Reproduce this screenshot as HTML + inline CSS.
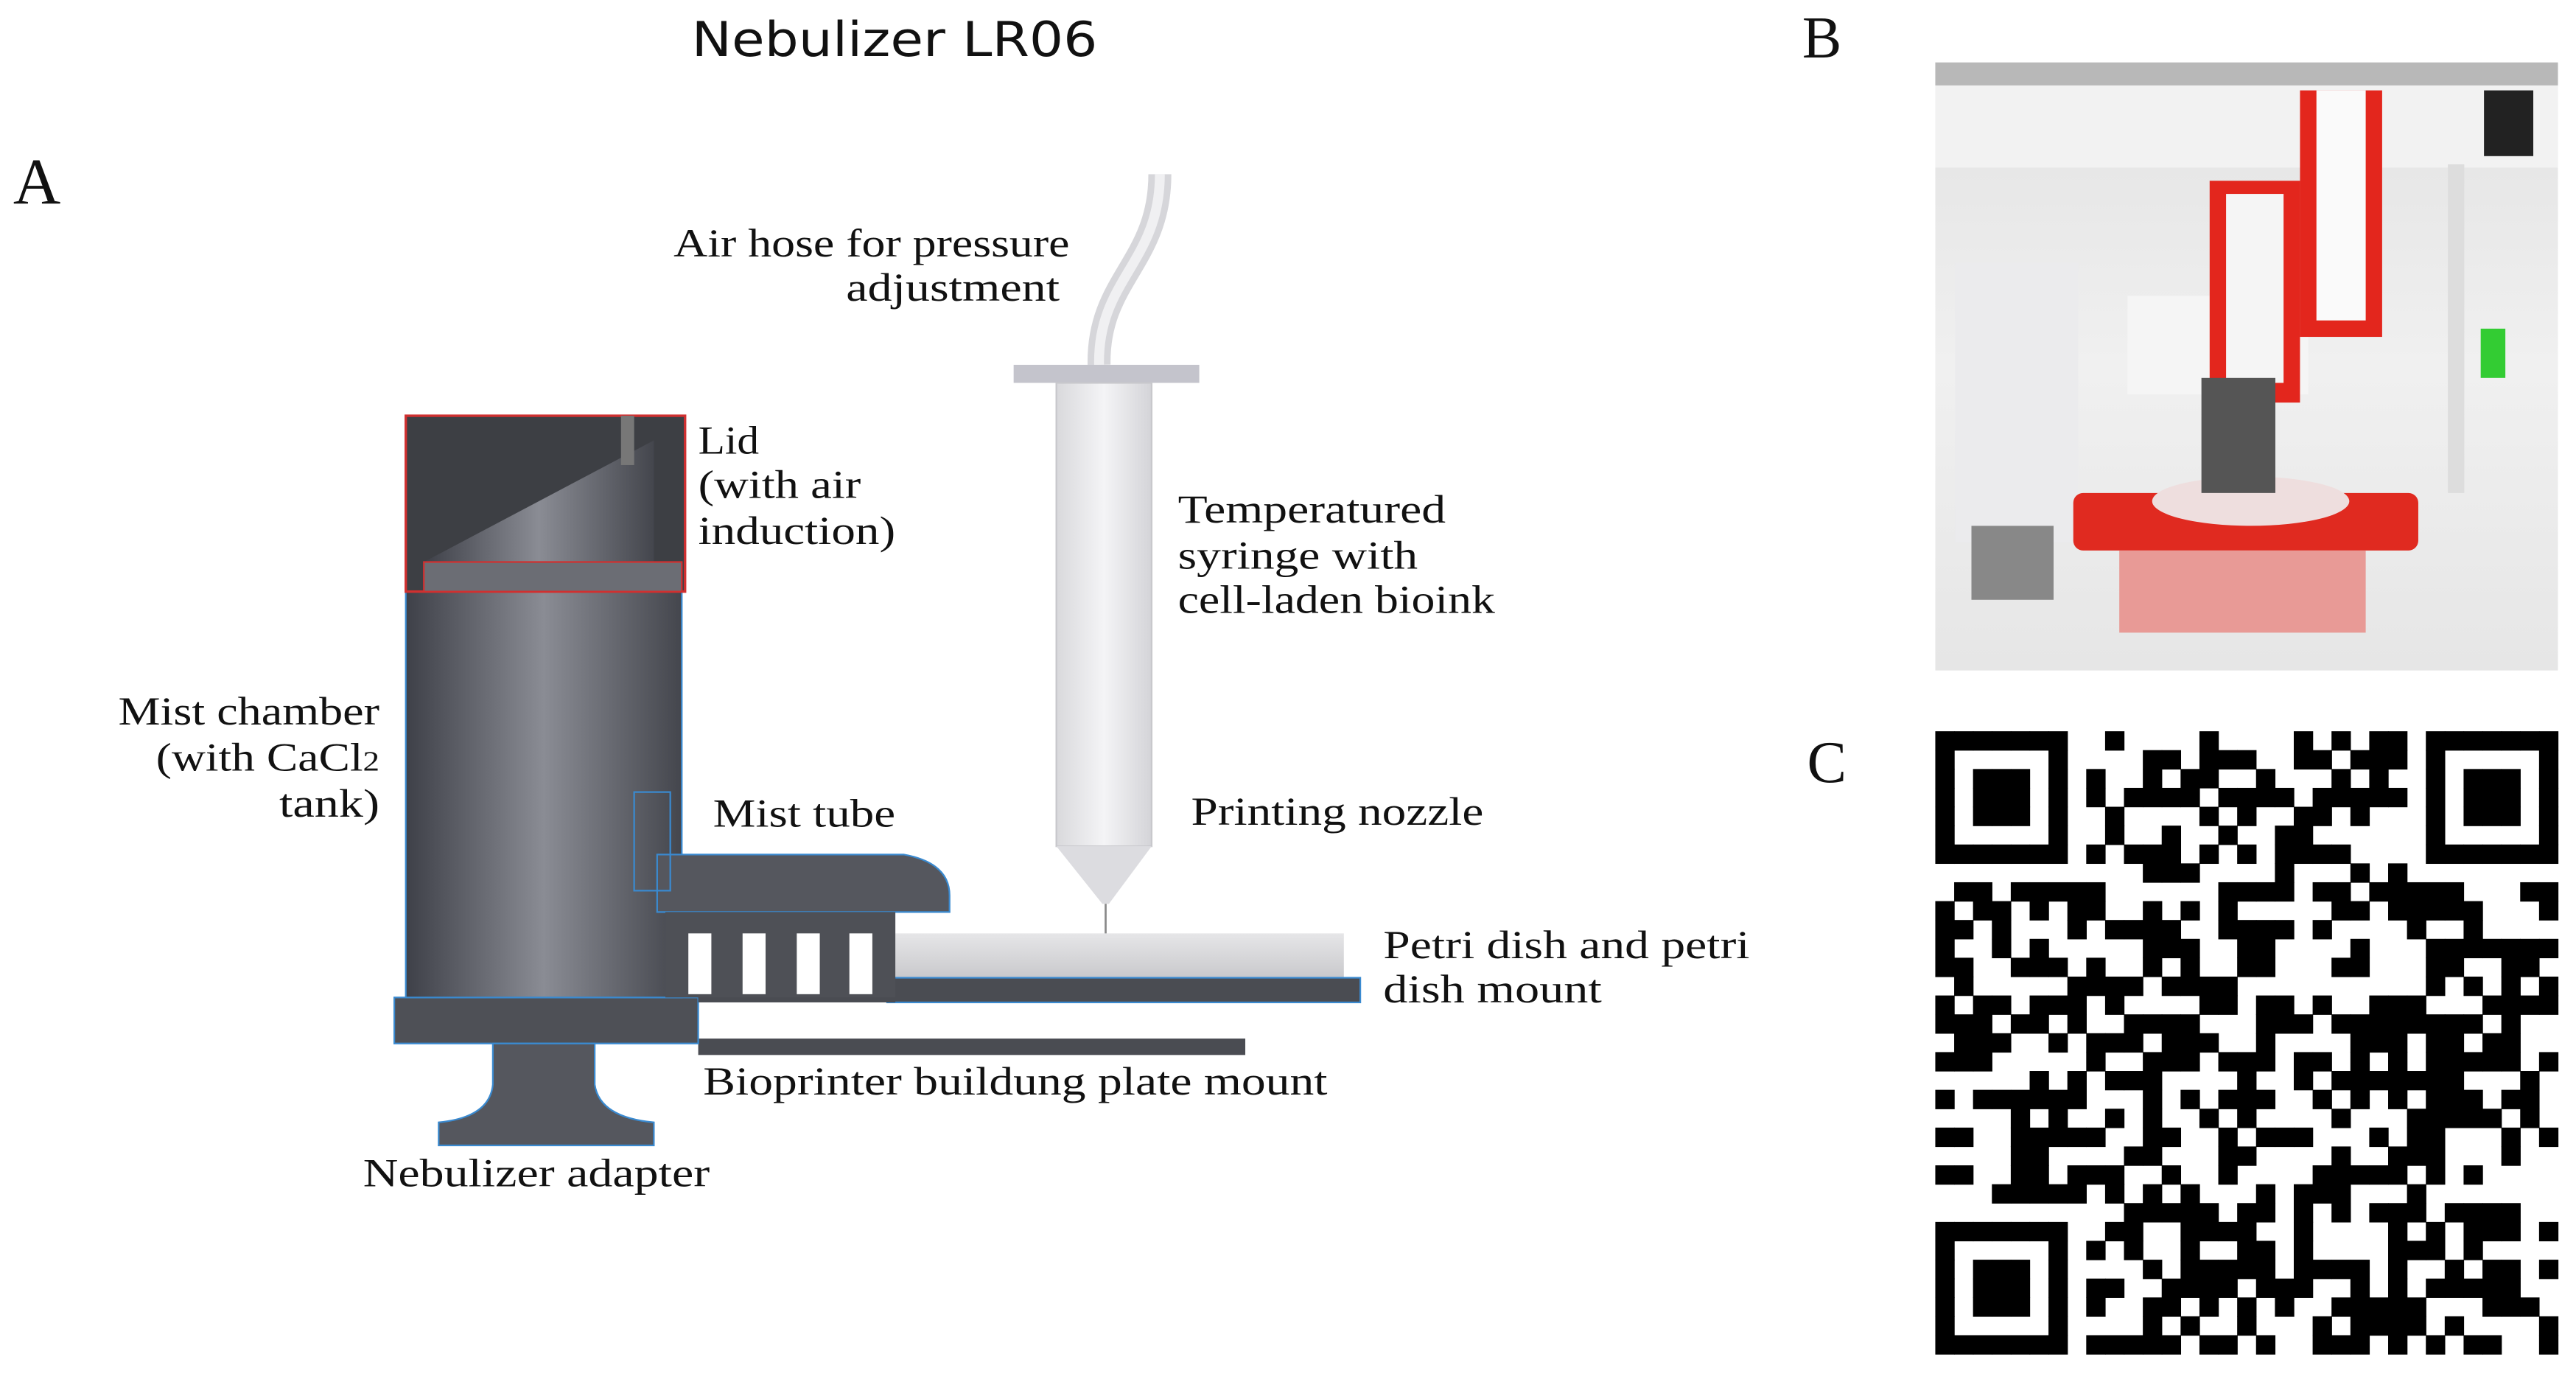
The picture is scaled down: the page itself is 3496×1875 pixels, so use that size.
<!DOCTYPE html>
<html><head><meta charset="utf-8"><style>
html,body{margin:0;padding:0;background:#fff;width:3496px;height:1875px;overflow:hidden}
svg{display:block}
.s{font-family:"Liberation Serif",serif;fill:#111}
</style></head><body>
<svg id="sv" width="3496" height="1875" viewBox="0 0 1568 841" preserveAspectRatio="none" xmlns="http://www.w3.org/2000/svg">
<defs>
<linearGradient id="ch" x1="0" x2="1"><stop offset="0" stop-color="#3e4048"/><stop offset="0.5" stop-color="#8a8c94"/><stop offset="1" stop-color="#44464d"/></linearGradient>
<linearGradient id="syr" x1="0" x2="1"><stop offset="0" stop-color="#d9d9dc"/><stop offset="0.5" stop-color="#f4f4f6"/><stop offset="1" stop-color="#d4d4d8"/></linearGradient>
<linearGradient id="pet" x1="0" y1="0" x2="0" y2="1"><stop offset="0" stop-color="#e6e6e8"/><stop offset="1" stop-color="#c9c9cc"/></linearGradient>
<linearGradient id="ph" x1="0" y1="0" x2="0" y2="1"><stop offset="0" stop-color="#e2e2e2"/><stop offset="0.5" stop-color="#f0f0f0"/><stop offset="1" stop-color="#e6e6e6"/></linearGradient>
</defs>
<text x="421" y="34" textLength="247" lengthAdjust="spacingAndGlyphs" font-family="DejaVu Sans,sans-serif" font-size="29" fill="#111">Nebulizer LR06</text>
<text class="s" x="8" y="124" font-size="40">A</text>
<text class="s" x="1097" y="35" font-size="36">B</text>
<text class="s" x="1100" y="476" font-size="36">C</text>

<path d="M706 106 C706 160 668 170 669 222" stroke="#d6d6da" stroke-width="14" fill="none"/>
<path d="M706 106 C706 160 668 170 669 222" stroke="#f0f0f2" stroke-width="6" fill="none"/>
<rect x="617" y="222" width="113" height="11" fill="#c4c4cc"/>
<rect x="643" y="233" width="58" height="282" fill="url(#syr)" stroke="#c8c8cc" stroke-width="1"/>
<path d="M643 515 L701 515 L675 550 L671 550 Z" fill="#dcdce0"/>
<line x1="673" y1="550" x2="673" y2="572" stroke="#888" stroke-width="1.2"/>
<rect x="545" y="568" width="273" height="27" fill="url(#pet)"/>
<rect x="540" y="595" width="288" height="15" fill="#4a4c52" stroke="#3a8ad0" stroke-width="1"/>
<rect x="425" y="632" width="333" height="10" fill="#4a4c52"/>
<rect x="240" y="607" width="185" height="28" fill="#4e5056" stroke="#3a8ad0" stroke-width="1"/>
<rect x="425" y="595" width="120" height="15" fill="#4a4c52"/>
<path d="M300 635 L362 635 L362 660 Q365 680 398 683 L398 697 L267 697 L267 683 Q298 680 300 660 Z" fill="#55575e" stroke="#3a8ad0" stroke-width="1"/>
<rect x="247" y="360" width="168" height="247" fill="url(#ch)" stroke="#3a8ad0" stroke-width="1"/>
<rect x="247" y="253" width="170" height="107" fill="#3d3f44" stroke="#d03030" stroke-width="1.5"/>
<path d="M258 342 L398 268 L398 342 Z" fill="url(#ch)"/>
<rect x="258" y="342" width="157" height="18" fill="#6b6d74" stroke="#d03030" stroke-width="1"/>
<rect x="378" y="253" width="8" height="30" fill="#777"/>
<path d="M400 520 L550 520 Q578 525 578 545 L578 555 L400 555 Z" fill="#55575e" stroke="#3a8ad0" stroke-width="1"/>
<rect x="386" y="482" width="22" height="60" fill="none" stroke="#3a8ad0" stroke-width="1"/>
<rect x="405" y="555" width="140" height="52" fill="#4e5056"/>
<rect x="419" y="568" width="14" height="37" fill="#fff"/>
<rect x="452" y="568" width="14" height="37" fill="#fff"/>
<rect x="485" y="568" width="14" height="37" fill="#fff"/>
<rect x="517" y="568" width="14" height="37" fill="#fff"/>
<g class="s" font-size="24" lengthAdjust="spacingAndGlyphs">
<text x="410" y="156" textLength="241" lengthAdjust="spacingAndGlyphs">Air hose for pressure</text>
<text x="515" y="183" textLength="130" lengthAdjust="spacingAndGlyphs">adjustment</text>
<text x="425" y="276" textLength="37" lengthAdjust="spacingAndGlyphs">Lid</text>
<text x="425" y="303" textLength="99" lengthAdjust="spacingAndGlyphs">(with air</text>
<text x="425" y="331" textLength="120" lengthAdjust="spacingAndGlyphs">induction)</text>
<text x="717" y="318" textLength="163" lengthAdjust="spacingAndGlyphs">Temperatured</text>
<text x="717" y="346" textLength="146" lengthAdjust="spacingAndGlyphs">syringe with</text>
<text x="717" y="373" textLength="193" lengthAdjust="spacingAndGlyphs">cell-laden bioink</text>
<text x="72" y="441" textLength="159" lengthAdjust="spacingAndGlyphs">Mist chamber</text>
<text x="95" y="469" textLength="136" lengthAdjust="spacingAndGlyphs">(with CaCl<tspan font-size="17">2</tspan></text>
<text x="170" y="497" textLength="61" lengthAdjust="spacingAndGlyphs">tank)</text>
<text x="434" y="503" textLength="111" lengthAdjust="spacingAndGlyphs">Mist tube</text>
<text x="725" y="502" textLength="178" lengthAdjust="spacingAndGlyphs">Printing nozzle</text>
<text x="842" y="583" textLength="223" lengthAdjust="spacingAndGlyphs">Petri dish and petri</text>
<text x="842" y="610" textLength="133" lengthAdjust="spacingAndGlyphs">dish mount</text>
<text x="428" y="666" textLength="380" lengthAdjust="spacingAndGlyphs">Bioprinter buildung plate mount</text>
<text x="221" y="722" textLength="211" lengthAdjust="spacingAndGlyphs">Nebulizer adapter</text>
</g>
<rect x="1178" y="38" width="379" height="370" fill="url(#ph)"/>
<rect x="1178" y="38" width="379" height="14" fill="#b8b8b8"/>
<rect x="1178" y="52" width="379" height="50" fill="#f2f2f2"/>
<rect x="1190" y="160" width="75" height="170" fill="#ebebed"/>
<rect x="1200" y="320" width="50" height="45" fill="#888"/>
<rect x="1295" y="180" width="110" height="60" fill="#f5f5f5"/>
<rect x="1262" y="300" width="210" height="35" rx="6" fill="#e02a20"/>
<rect x="1290" y="335" width="150" height="50" fill="#e89a96"/>
<ellipse cx="1370" cy="305" rx="60" ry="15" fill="#eedede"/>
<rect x="1345" y="110" width="55" height="135" fill="#e3261d"/>
<rect x="1355" y="118" width="35" height="115" fill="#f5f5f5"/>
<rect x="1400" y="55" width="50" height="150" fill="#e3261d"/>
<rect x="1410" y="55" width="30" height="140" fill="#fafafa"/>
<rect x="1340" y="230" width="45" height="70" fill="#555"/>
<rect x="1512" y="55" width="30" height="40" fill="#222"/>
<rect x="1510" y="200" width="15" height="30" fill="#3c3"/>
<rect x="1490" y="100" width="10" height="200" fill="#ddd"/>
<g id="qr"></g>
</svg>
<script>
(function(){
var N=33,x0=1178,y0=445,s=379/N,g=document.getElementById('qr');
var seed=12345;function r(){seed=(seed*1103515245+12345)&0x7fffffff;return seed/0x7fffffff;}
function fin(i,j,a,b){var dx=Math.max(Math.abs(i-a-3),Math.abs(j-b-3));return dx<=3&&dx!=2;}
var h='';
for(var j=0;j<N;j++)for(var i=0;i<N;i++){
 var on;
 if(i<8&&j<8) on=fin(i,j,0,0)&&i<7&&j<7;
 else if(i>=N-8&&j<8) on=fin(i,j,N-7,0)&&i>=N-7&&j<7;
 else if(i<8&&j>=N-8) on=fin(i,j,0,N-7)&&i<7&&j>=N-7;
 else on=r()<0.5;
 if(on) h+='<rect x="'+(x0+i*s)+'" y="'+(y0+j*s)+'" width="'+(s+0.3)+'" height="'+(s+0.3)+'" fill="#000"/>';
}
g.innerHTML=h;
})();
</script>
</body></html>
